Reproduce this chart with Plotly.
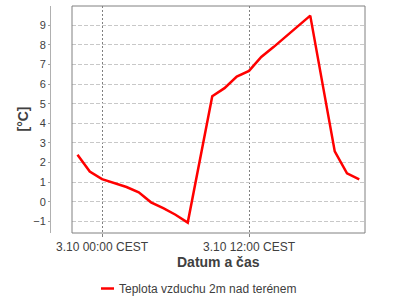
import plotly.graph_objects as go

times = [
    "2023-10-02 22:00", "2023-10-02 23:00",
    "2023-10-03 00:00", "2023-10-03 01:00", "2023-10-03 02:00", "2023-10-03 03:00",
    "2023-10-03 04:00", "2023-10-03 05:00", "2023-10-03 06:00", "2023-10-03 07:00",
    "2023-10-03 08:00", "2023-10-03 09:00", "2023-10-03 10:00", "2023-10-03 11:00",
    "2023-10-03 12:00", "2023-10-03 13:00", "2023-10-03 14:00", "2023-10-03 15:00",
    "2023-10-03 16:00", "2023-10-03 17:00", "2023-10-03 18:00", "2023-10-03 19:00",
    "2023-10-03 20:00", "2023-10-03 21:00",
]
temps = [2.40, 1.55, 1.16, 0.95, 0.76, 0.49, -0.02, -0.32, -0.65, -1.05,
         2.18, 5.38, 5.79, 6.38, 6.67, 7.38, 7.88, 8.42, 8.96, 9.48,
         6.02, 2.57, 1.46, 1.15]

series_name = "Teplota vzduchu 2m nad terénem"
x_tick_vals = ["2023-10-03 00:00", "2023-10-03 12:00"]
x_tick_text = ["3.10 00:00 CEST", "3.10 12:00 CEST"]
y_tick_vals = [-1, 0, 1, 2, 3, 4, 5, 6, 7, 8, 9]
x_title = "Datum a čas"
y_title = "[°C]"

W, H = 400, 300
L, R, T, B = 72, 365, 6, 233  # plot area in px
YAX_X = 50

FONT = "Liberation Sans, Arial, sans-serif"
TXT = "#404040"

fig = go.Figure()
fig.add_trace(go.Scatter(x=times, y=temps, mode="lines", name=series_name,
                         line=dict(color="#ff0000", width=2.5), showlegend=False))

fig.update_layout(
    template="none",
    width=W, height=H,
    margin=dict(l=0, r=0, t=0, b=0, pad=0),
    paper_bgcolor="white", plot_bgcolor="white",
    font=dict(family=FONT, color=TXT, size=12),
    xaxis=dict(
        domain=[L / W, R / W],
        range=["2023-10-02 21:33:04", "2023-10-03 21:28:10"],
        tickmode="array", tickvals=x_tick_vals, ticktext=x_tick_text,
        ticks="outside", ticklen=3, tickcolor="#808080",
        showgrid=True, gridcolor="#808080", griddash="2px,2px", gridwidth=1,
        showline=False, zeroline=False, automargin=False,
        tickfont=dict(size=12, color=TXT, family=FONT),
    ),
    yaxis=dict(
        domain=[(H - B) / H, (H - T) / H],
        range=[-1.58, 9.97],
        anchor="free", position=YAX_X / W,
        tickmode="array", tickvals=y_tick_vals,
        ticks="outside", ticklen=2, tickcolor="#a0a0a0",
        showline=True, linecolor="#b0b0b0", linewidth=1,
        showgrid=True, gridcolor="#c8c8c8", griddash="4px,2px", gridwidth=1,
        zeroline=False, automargin=False,
        tickfont=dict(size=11, color=TXT, family=FONT),
    ),
    shapes=[
        dict(type="rect", xref="x domain", yref="y domain", x0=0, x1=1, y0=0, y1=1,
             line=dict(color="#808080", width=1), fillcolor="rgba(0,0,0,0)", layer="above"),
        dict(type="line", xref="paper", yref="paper",
             x0=101 / W, x1=114 / W, y0=(H - 288.5) / H, y1=(H - 288.5) / H,
             line=dict(color="#ff0000", width=2.5)),
    ],
    annotations=[
        dict(text="<b>" + x_title + "</b>", xref="paper", yref="paper",
             x=((L + R) / 2) / W, y=(H - 262) / H, xanchor="center", yanchor="middle",
             showarrow=False, font=dict(size=14, color=TXT, family=FONT)),
        dict(text="<b>" + y_title + "</b>", xref="paper", yref="paper",
             x=22 / W, y=(H - 119.5) / H, xanchor="center", yanchor="middle",
             textangle=-90, showarrow=False, font=dict(size=14, color=TXT, family=FONT)),
        dict(text=series_name, xref="paper", yref="paper",
             x=117 / W, y=(H - 288.5) / H, xanchor="left", yanchor="middle",
             showarrow=False, font=dict(size=12, color=TXT, family=FONT)),
    ],
    showlegend=False,
)

fig.write_html("out.html")
